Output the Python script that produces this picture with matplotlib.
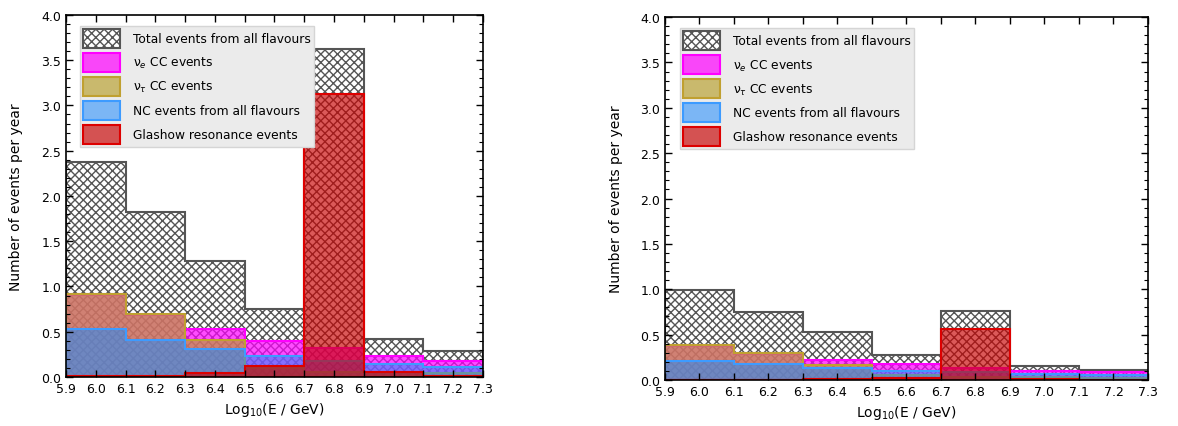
import matplotlib
matplotlib.use("Agg")
import matplotlib.pyplot as plt
import numpy as np
from matplotlib.ticker import MultipleLocator

# energy bins in log10(E/GeV)
edges = [5.9, 6.1, 6.3, 6.5, 6.7, 6.9, 7.1, 7.3]
xticks = [5.9, 6.0, 6.1, 6.2, 6.3, 6.4, 6.5, 6.6, 6.7, 6.8, 6.9, 7.0, 7.1, 7.2, 7.3]

# left panel (events per year)
total_l = [2.38, 1.82, 1.28, 0.75, 3.62, 0.42, 0.29]
nue_l = [0.91, 0.69, 0.53, 0.40, 0.32, 0.235, 0.18]
nutau_l = [0.92, 0.70, 0.41, 0.10, 0.06, 0.05, 0.04]
nc_l = [0.53, 0.405, 0.31, 0.235, 0.18, 0.144, 0.114]
gr_l = [0.015, 0.015, 0.04, 0.118, 3.13, 0.055, 0.01]

# right panel
total_r = [0.99, 0.75, 0.53, 0.28, 0.76, 0.15, 0.11]
nue_r = [0.38, 0.29, 0.22, 0.18, 0.13, 0.10, 0.085]
nutau_r = [0.39, 0.295, 0.17, 0.05, 0.03, 0.03, 0.02]
nc_r = [0.215, 0.18, 0.13, 0.10, 0.085, 0.07, 0.06]
gr_r = [0.005, 0.005, 0.01, 0.02, 0.56, 0.01, 0.005]

labels = ["Total events from all flavours", "ν$_e$ CC events", "ν$_τ$ CC events",
          "NC events from all flavours", "Glashow resonance events"]

centers = 0.5 * (np.array(edges[:-1]) + np.array(edges[1:]))


def draw(ax, total, nue, nutau, nc, gr, ypad):
    ax.hist(centers, bins=edges, weights=total, histtype="stepfilled",
            facecolor="white", edgecolor="#555555", hatch="xxxx", lw=1.5, label=labels[0])
    ax.hist(centers, bins=edges, weights=nue, histtype="stepfilled",
            facecolor=(1.0, 0.0, 1.0, 0.7), edgecolor="#ff00ff", lw=1.5, label=labels[1])
    ax.hist(centers, bins=edges, weights=nutau, histtype="stepfilled",
            facecolor=(0.72, 0.62, 0.16, 0.65), edgecolor="#c0a030", lw=1.5, label=labels[2])
    ax.hist(centers, bins=edges, weights=nc, histtype="stepfilled",
            facecolor=(0.12, 0.55, 1.0, 0.55), edgecolor="#3d9bff", lw=1.5, label=labels[3])
    ax.hist(centers, bins=edges, weights=gr, histtype="stepfilled",
            facecolor=(0.79, 0.0, 0.0, 0.65), edgecolor="#dd0000", lw=1.5, label=labels[4])

    ax.set_xlim(5.9, 7.3)
    ax.set_ylim(0, 4.0)
    ax.set_xticks(xticks)
    ax.yaxis.set_major_locator(MultipleLocator(0.5))
    ax.yaxis.set_minor_locator(MultipleLocator(0.1))
    ax.tick_params(which="both", direction="in", top=True, right=True, labelsize=9)
    ax.tick_params(which="major", length=5, width=1)
    ax.tick_params(which="minor", length=3, width=0.8)
    ax.set_xlabel("Log$_{10}$(E / GeV)", fontsize=10)
    ax.set_ylabel("Number of events per year", fontsize=10, labelpad=ypad)
    for s in ax.spines.values():
        s.set_linewidth(1.2)
    leg = ax.legend(loc="upper left", bbox_to_anchor=(0.02, 0.985), fontsize=8.8,
                    handlelength=3.0, handleheight=2.0, handletextpad=1.1,
                    labelspacing=0.42, fancybox=False, framealpha=1,
                    facecolor="#ebebeb", edgecolor="#d5d5d5", borderpad=0.25,
                    borderaxespad=0.45)
    leg.get_frame().set_linewidth(1.0)


fig = plt.figure(figsize=(11.78, 4.27), dpi=100)
ax1 = fig.add_axes([0.056, 0.1148, 0.354, 0.848])
ax2 = fig.add_axes([0.5645, 0.1077, 0.410, 0.850])
draw(ax1, total_l, nue_l, nutau_l, nc_l, gr_l, 13)
draw(ax2, total_r, nue_r, nutau_r, nc_r, gr_r, 12)
fig.savefig("out.png", dpi=100)
